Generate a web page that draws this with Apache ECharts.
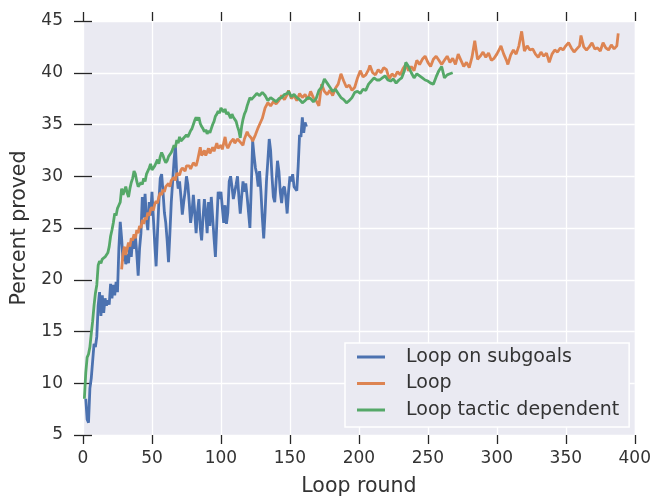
<!DOCTYPE html>
<html>
<head>
<meta charset="utf-8">
<script src="https://cdn.jsdelivr.net/npm/echarts@6/dist/echarts.min.js"></script>
<style>html,body{margin:0;padding:0;background:#fff;}#c{width:654px;height:502px;}</style>
</head>
<body>
<div id="c"></div>
<script>
var seriesNames = ['Loop on subgoals', 'Loop', 'Loop tactic dependent'];
var xTicks = [0, 50, 100, 150, 200, 250, 300, 350, 400];
var yTicks = [5, 10, 15, 20, 25, 30, 35, 40, 45];

var blueX = [2,3,4,5,6,8,9,10,11,12,13,14,15,16,17,18,19,20,21,22,23,24,25,26,27,28,29,30,31,32,33,34,35,36,37,38,39,40,41,42,43,44,45,46,47,48,49,50,51,52,53,54,55,56,57,58,59,60,61,62,63,64,65,66,67,68,69,70,71,72,73,74,75,76,77,78,79,80,81,82,83,84,85,86,87,88,89,90,91,92,93,94,95,96,97,98,99,100,101,102,103,104,105,106,107,108,109,110,111,112,113,114,115,116,117,118,119,120,121,122,123,124,125,126,127,128,129,130,131,132,133,134,135,136,137,138,139,140,141,142,143,144,145,146,147,148,149,150,151,152,153,154,155,156,157,158,159,160,161,162];
var blueY = [8.5,6.5,6.2,9.5,10.5,13.8,13.5,14.5,17.5,18.8,16.5,18.5,16.8,18.2,17.5,18.0,17.6,19.6,18.2,19.5,18.5,19.8,18.8,23.0,25.6,24.0,21.8,23.0,21.5,22.5,21.6,23.5,22.2,24.0,23.0,24.2,22.5,20.4,23.0,24.5,28.0,26.0,28.3,25.8,24.8,27.5,26.2,28.5,26.0,23.5,21.3,24.5,27.5,29.8,30.2,28.5,26.5,25.5,23.8,21.7,24.5,27.5,29.5,31.5,33.0,30.0,28.8,29.5,28.0,26.3,27.5,28.5,30.0,29.2,27.5,25.5,26.5,28.2,26.5,24.5,26.5,27.8,25.0,23.8,26.0,27.8,26.5,24.5,27.5,25.2,28.0,26.0,24.0,22.2,25.5,28.5,27.8,28.5,27.0,25.5,27.2,25.4,26.5,29.5,30.0,29.0,27.8,28.5,29.2,30.0,28.0,26.4,28.0,29.5,28.5,29.3,28.0,26.5,25.0,29.0,33.4,32.0,30.8,30.2,29.0,30.5,28.5,26.0,24.0,26.5,29.5,31.5,33.6,32.5,30.0,28.0,27.5,29.5,31.5,30.5,28.5,27.4,28.8,29.0,28.0,26.4,28.5,30.0,29.5,30.2,29.0,28.8,28.6,31.0,34.0,33.8,35.7,34.2,35.2,34.8];

var orangeX = [28,29,30,31,32,33,34,35,36,37,38,39,40,41,42,43,44,45,46,47,48,49,50,51,52,53,54,55,56,57,58,59,60,62,63,64,66,67,68,70,71,72,74,75,77,78,80,82,83,85,86,88,89,91,92,94,95,97,98,100,101,103,104,105,107,109,110,112,114,116,117,119,120,122,123,125,127,128,130,132,134,136,138,140,142,144,146,148,149,151,153,155,157,159,161,163,165,167,169,171,173,175,177,179,181,183,185,187,189,191,193,195,197,199,201,203,205,207,208,210,212,214,216,218,220,222,224,226,228,230,232,234,236,238,240,242,244,246,248,250,252,254,256,258,260,262,264,266,268,270,272,274,276,278,280,282,284,286,288,290,292,294,296,298,300,302,303,305,307,308,310,312,314,316,318,320,322,324,326,328,330,332,334,336,338,340,342,344,346,348,350,352,354,356,358,360,361,363,365,367,369,371,373,375,377,379,381,383,385,387,388];
var orangeY = [21.0,22.5,23.2,22.4,23.0,23.6,23.2,24.0,23.8,24.4,24.0,24.8,24.5,25.2,25.0,25.8,25.4,26.0,25.8,26.5,26.2,26.8,27.0,26.7,27.3,27.6,27.4,28.0,28.4,28.2,28.7,28.5,29.0,29.3,29.0,29.6,29.9,29.6,30.3,30.1,30.6,30.8,30.5,31.0,31.0,30.7,31.3,31.0,31.5,32.8,32.0,32.5,32.0,32.7,32.2,32.8,32.4,33.2,32.7,33.0,32.6,33.8,33.0,32.7,33.3,33.6,33.2,33.6,33.3,33.0,33.6,34.3,34.0,33.7,33.4,34.0,34.7,35.0,35.6,36.6,37.1,36.8,37.2,37.0,37.3,37.8,37.4,37.9,38.3,37.5,37.8,37.3,38.0,37.6,37.9,37.4,38.2,37.6,37.3,36.8,38.9,38.2,37.9,38.3,37.8,38.5,38.9,39.9,39.2,38.6,38.8,38.3,38.6,39.5,40.2,39.6,39.8,40.3,40.7,40.0,39.8,40.3,40.0,40.5,40.3,39.4,39.9,39.6,40.1,39.8,40.4,40.8,40.2,40.6,40.2,41.2,40.8,41.3,41.6,41.0,40.6,41.3,41.6,41.2,40.8,41.2,41.6,41.0,41.4,40.8,41.8,41.2,40.6,41.0,40.5,41.5,43.1,41.3,41.6,42.0,41.5,41.9,41.2,41.4,41.8,42.3,42.6,41.8,41.2,40.8,41.7,42.2,41.8,42.6,44.0,42.1,42.6,42.2,42.3,41.8,41.5,42.0,41.6,41.9,41.0,41.8,42.2,42.0,42.4,42.2,42.6,42.9,42.4,42.0,42.3,42.6,43.6,42.5,42.2,42.5,42.9,42.3,42.4,42.1,42.9,42.4,42.2,42.7,42.3,42.6,43.8];

var greenX = [1,2,3,4,5,6,7,8,9,10,11,12,13,14,15,16,17,18,19,20,21,22,23,24,25,26,27,28,29,30,31,32,33,34,35,36,37,38,39,40,41,42,43,44,45,46,47,48,49,50,51,52,53,54,55,56,57,58,59,60,61,62,63,64,65,66,67,68,69,70,71,72,73,74,75,76,77,78,79,80,81,82,83,84,85,86,87,88,89,90,91,92,93,94,95,96,97,98,99,100,101,102,103,104,105,106,107,108,109,110,111,112,113,114,115,116,117,118,119,120,121,122,124,126,128,130,132,134,136,138,140,142,144,146,148,149,151,153,155,157,159,161,163,165,167,169,171,173,175,177,179,181,183,185,187,189,191,193,195,197,199,201,203,205,207,209,211,213,215,217,219,221,223,225,227,229,231,233,234,236,238,240,242,244,246,248,250,252,254,256,258,260,262,264,266,268];
var greenY = [8.5,11.0,12.5,12.8,13.5,14.8,16.0,17.5,18.7,19.5,21.4,21.8,21.6,22.0,21.9,22.2,22.1,22.6,23.2,24.2,24.8,25.5,26.4,26.2,26.9,27.2,27.5,28.8,28.2,28.6,29.0,28.4,28.0,28.8,29.4,29.8,30.5,30.2,29.5,29.0,28.9,29.4,29.2,29.8,29.5,30.2,30.5,30.8,31.2,30.6,30.5,31.0,31.3,31.6,31.2,31.9,32.3,32.0,31.6,31.3,31.5,31.9,31.8,32.3,32.6,33.0,32.8,33.5,33.2,33.8,33.4,33.5,33.7,33.6,34.0,33.8,34.1,34.4,34.6,35.0,35.4,35.7,35.4,35.7,35.1,34.8,34.6,34.3,34.5,34.1,34.4,34.2,34.6,35.0,35.3,35.8,36.0,36.3,36.1,36.6,36.4,36.2,36.5,36.0,36.2,35.9,35.6,36.0,35.7,35.8,35.3,34.8,34.4,33.7,34.8,35.5,36.0,36.3,36.8,37.2,37.6,37.4,37.7,38.0,37.8,38.1,37.8,37.3,37.6,37.4,37.2,37.5,37.6,37.9,38.0,38.2,37.7,37.9,37.6,37.4,37.1,37.3,37.6,37.5,37.2,37.5,38.3,38.6,39.4,39.0,38.6,38.2,38.4,38.0,37.6,37.4,37.1,37.3,37.6,38.1,38.2,38.0,38.4,38.3,38.9,39.2,39.5,39.3,39.3,39.5,39.7,39.3,39.2,39.4,39.0,39.3,39.5,40.2,41.0,40.6,40.0,39.5,39.9,39.7,39.5,39.3,39.2,39.0,38.9,39.6,40.2,40.6,39.5,39.8,39.9,40.0];

function pairs(xs, ys) { return xs.map(function (x, i) { return [x, ys[i]]; }); }

var colors = ['#4C72B0', '#DD8452', '#55A868'];
var txt = '#333333';
var tickStyle = { show: true, inside: false, length: 9, lineStyle: { color: '#262626', width: 1.3 } };

var chart = echarts.init(document.getElementById('c'), null, { renderer: 'canvas' });
var option = {
  animation: false,
  color: colors,
  grid: { left: 83, right: 17, top: 21, bottom: 66, show: true, backgroundColor: '#EAEAF2', borderWidth: 0 },
  xAxis: [
    { type: 'value', min: xTicks[0], max: xTicks[xTicks.length - 1], interval: 50, position: 'bottom',
      axisLine: { show: false }, axisTick: tickStyle,
      axisLabel: { color: txt, fontSize: 17, fontFamily: 'DejaVu Sans', margin: 15 },
      splitLine: { show: true, lineStyle: { color: '#ffffff', width: 1.3 } },
      name: 'Loop round', nameLocation: 'middle', nameGap: 41,
      nameTextStyle: { color: txt, fontSize: 20.5, fontFamily: 'DejaVu Sans' } },
    { type: 'value', min: xTicks[0], max: xTicks[xTicks.length - 1], interval: 50, position: 'top',
      axisLine: { show: false }, axisTick: tickStyle, axisLabel: { show: false }, splitLine: { show: false } }
  ],
  yAxis: [
    { type: 'value', min: yTicks[0], max: yTicks[yTicks.length - 1], interval: 5, position: 'left',
      axisLine: { show: false }, axisTick: tickStyle,
      axisLabel: { color: txt, fontSize: 17, fontFamily: 'DejaVu Sans', margin: 20 },
      splitLine: { show: true, lineStyle: { color: '#ffffff', width: 1.3 } },
      name: 'Percent proved', nameLocation: 'middle', nameGap: 53,
      nameTextStyle: { color: txt, fontSize: 20.5, fontFamily: 'DejaVu Sans' } },
    { type: 'value', min: yTicks[0], max: yTicks[yTicks.length - 1], interval: 5, position: 'right',
      axisLine: { show: false }, axisTick: tickStyle, axisLabel: { show: false }, splitLine: { show: false } }
  ],
  legend: {
    orient: 'vertical', left: 345, top: 343,
    data: seriesNames,
    icon: 'rect', itemWidth: 28, itemHeight: 3, itemGap: 4.5,
    padding: [3, 10, 6, 12],
    backgroundColor: '#EAEAF2', borderColor: '#ffffff', borderWidth: 1.5,
    textStyle: { color: txt, fontSize: 19, fontFamily: 'DejaVu Sans', lineHeight: 22, padding: [0, 0, 0, 16] }
  },
  series: [
    { name: seriesNames[0], type: 'line', data: pairs(blueX, blueY), showSymbol: false, lineStyle: { width: 2.8 } },
    { name: seriesNames[1], type: 'line', data: pairs(orangeX, orangeY), showSymbol: false, lineStyle: { width: 2.8 } },
    { name: seriesNames[2], type: 'line', data: pairs(greenX, greenY), showSymbol: false, lineStyle: { width: 2.8 } }
  ]
};
chart.setOption(option);
</script>
</body>
</html>
